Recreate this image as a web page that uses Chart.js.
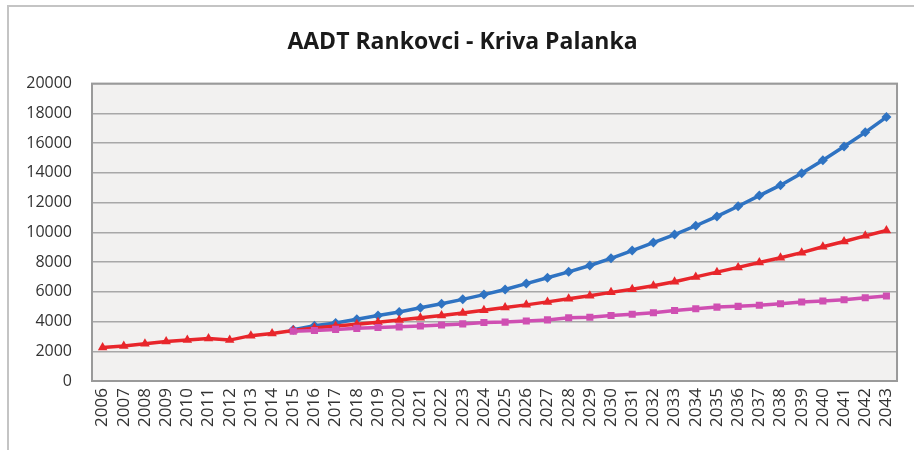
<!DOCTYPE html>
<html>
<head>
<meta charset="utf-8">
<style>
  html, body { margin: 0; padding: 0; background: #ffffff; }
  #wrap { position: relative; width: 914px; height: 450px; overflow: hidden; }
  #frame {
    position: absolute; left: 7px; top: 5px; width: 1000px; height: 1000px;
    border-top: 2px solid #c4c4c4; border-left: 2px solid #c4c4c4;
    pointer-events: none;
  }
  canvas { position: absolute; left: 0; top: 0; }
</style>
<script src="https://cdn.jsdelivr.net/npm/chart.js@4.4.0/dist/chart.umd.min.js"></script>
</head>
<body>
<div id="wrap">
  <div id="frame"></div>
  <canvas id="chart" width="914" height="450"></canvas>
</div>
<script>
// Years on the x axis
const years = [
  '2006', '2007', '2008', '2009', '2010', '2011', '2012', '2013', '2014', '2015',
  '2016', '2017', '2018', '2019', '2020', '2021', '2022', '2023', '2024', '2025',
  '2026', '2027', '2028', '2029', '2030', '2031', '2032', '2033', '2034', '2035',
  '2036', '2037', '2038', '2039', '2040', '2041', '2042', '2043'
];

// Blue diamonds (starts 2015)
const blueValues = [
  null, null, null, null, null, null, null, null, null, 3450,
  3720, 3900, 4150, 4410, 4640, 4920, 5200, 5490, 5810, 6150,
  6550, 6940, 7340, 7770, 8250, 8770, 9310, 9850, 10440, 11070,
  11750, 12470, 13170, 13970, 14850, 15770, 16720, 17750
];

// Red triangles
const redValues = [
  2250, 2350, 2500, 2650, 2750, 2850, 2750, 3050, 3200, 3400,
  3560, 3700, 3820, 3950, 4100, 4250, 4400, 4580, 4760, 4940,
  5120, 5320, 5530, 5740, 5960, 6170, 6400, 6680, 7000, 7320,
  7640, 7970, 8290, 8630, 9030, 9380, 9760, 10120
];

// Pink squares (starts 2015)
const pinkValues = [
  null, null, null, null, null, null, null, null, null, 3350,
  3400, 3470, 3540, 3600, 3640, 3700, 3760, 3840, 3930, 3960,
  4030, 4110, 4250, 4290, 4410, 4490, 4590, 4740, 4860, 4970,
  5020, 5090, 5200, 5310, 5380, 5470, 5600, 5720
];

const yTicks = [0, 2000, 4000, 6000, 8000, 10000, 12000, 14000, 16000, 18000, 20000];

const BLUE = '#2f73c2';
const RED = '#e8262b';
const PINK = '#cf4fb2';

// plot area fill + border
const plotFrame = {
  id: 'plotFrame',
  beforeDraw(chart) {
    const { ctx, chartArea: a } = chart;
    ctx.save();
    ctx.fillStyle = '#f2f1f0';
    ctx.fillRect(a.left, a.top, a.right - a.left, a.bottom - a.top);
    ctx.restore();
  },
  afterDatasetsDraw(chart) {
    const { ctx, chartArea: a } = chart;
    ctx.save();
    ctx.strokeStyle = '#9a9a9a';
    ctx.lineWidth = 2;
    ctx.strokeRect(a.left, a.top, a.right - a.left, a.bottom - a.top);
    ctx.restore();
  }
};

const ctx = document.getElementById('chart').getContext('2d');
new Chart(ctx, {
  type: 'line',
  data: {
    labels: years,
    datasets: [
      {
        data: pinkValues,
        borderColor: PINK, backgroundColor: PINK,
        borderWidth: 3.5, pointStyle: 'rect', pointRadius: 5,
        pointBorderWidth: 0, tension: 0
      },
      {
        data: redValues,
        borderColor: RED, backgroundColor: RED,
        borderWidth: 3.5, pointStyle: 'triangle', pointRadius: 5.5,
        pointBorderWidth: 0, tension: 0
      },
      {
        data: blueValues,
        borderColor: BLUE, backgroundColor: BLUE,
        borderWidth: 3.5, pointStyle: 'rectRot', pointRadius: 5,
        pointBorderWidth: 0, tension: 0
      }
    ]
  },
  options: {
    responsive: false,
    animation: false,
    // left padding nudges the title centre right, like the original
    layout: { padding: { left: 24, right: 13, top: 0, bottom: 0 } },
    plugins: {
      legend: { display: false },
      tooltip: { enabled: false },
      title: {
        display: true,
        text: 'AADT Rankovci - Kriva Palanka',
        color: '#1a1a1a',
        font: { family: 'Open Sans', size: 23, weight: 'bold' },
        padding: { top: 29, bottom: 27 }
      }
    },
    scales: {
      x: {
        offset: true,
        grid: { display: false, drawTicks: false },
        border: { display: false },
        ticks: {
          autoSkip: false,
          minRotation: 90,
          maxRotation: 90,
          padding: 7,
          color: '#333333',
          font: { family: 'Open Sans', size: 17 }
        },
        afterFit(scale) { scale.height = 69; }
      },
      y: {
        min: 0,
        max: 20000,
        afterBuildTicks(scale) { scale.ticks = yTicks.map(v => ({ value: v })); },
        grid: { color: '#a8a8a8', lineWidth: 1.5, drawTicks: false },
        border: { display: false },
        ticks: {
          padding: 20,
          color: '#333333',
          font: { family: 'Open Sans', size: 16 },
          callback: v => String(v)
        },
        afterFit(scale) { scale.width = 68; }
      }
    }
  },
  plugins: [plotFrame]
});
</script>
</body>
</html>
